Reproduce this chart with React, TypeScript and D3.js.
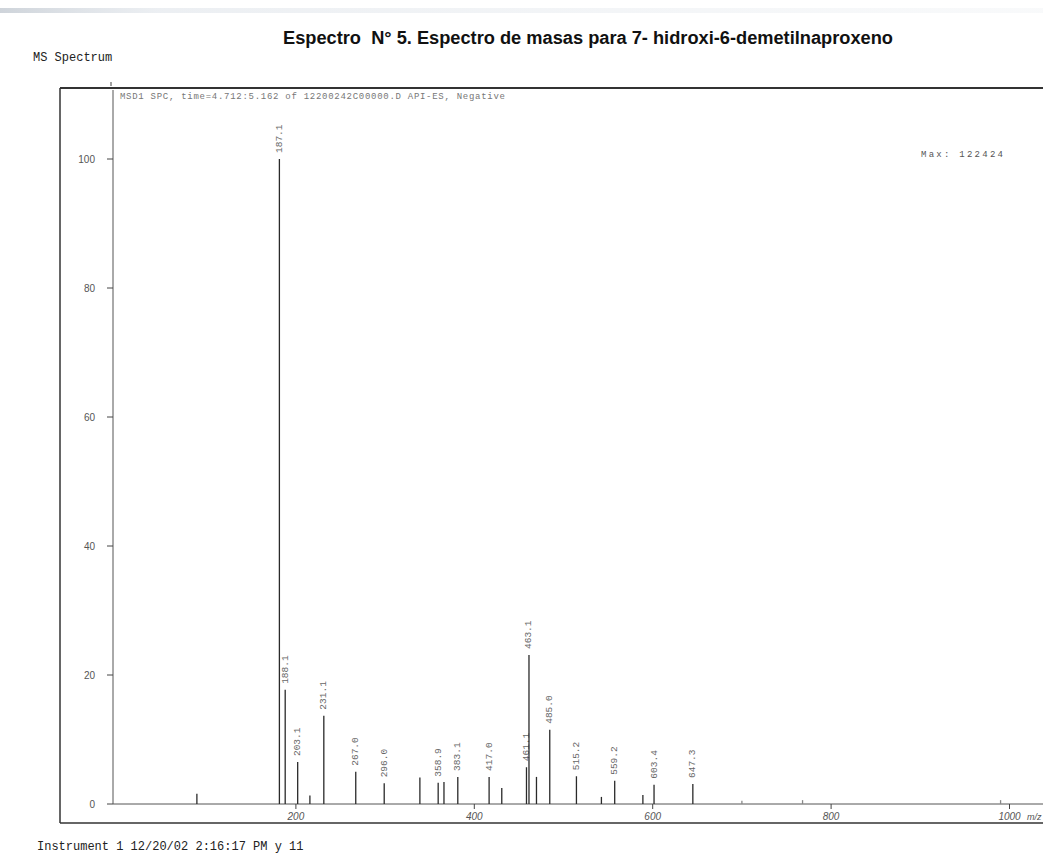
import React from 'react'
import * as d3 from 'd3'

const svgWidth = 1043
const svgHeight = 857

const peakMz = [89, 181.5, 188, 202, 215.7, 231.3, 267.1, 299, 339, 359.5, 366, 381.5, 416.6, 430.8, 458.5, 461.3, 469.7, 484.6, 514.5, 542.5, 557.4, 589, 601.5, 645, 700, 768, 990]
const peakPct = [1.6, 100, 17.7, 6.5, 1.3, 13.7, 5, 3.2, 4.1, 3.3, 3.4, 4.2, 4.2, 2.5, 5.7, 23.1, 4.2, 11.5, 4.3, 1.1, 3.6, 1.4, 3, 3.1, 0.5, 0.6, 0.6]
const peakLabels = ['', '187.1', '188.1', '203.1', '', '231.1', '267.0', '296.0', '', '358.9', '', '383.1', '417.0', '', '461.1', '463.1', '', '485.0', '515.2', '', '559.2', '', '603.4', '647.3', '', '', '']

const yTicks = [0, 20, 40, 60, 80, 100]
const xTicks = [200, 400, 600, 800, 1000]

const title = 'Espectro  N° 5. Espectro de masas para 7- hidroxi-6-demetilnaproxeno'
const header = 'MSD1 SPC, time=4.712:5.162 of 12200242C00000.D  API-ES, Negative'
const footer = 'Instrument 1 12/20/02 2:16:17 PM y 11'

const mono = '"Liberation Mono", "DejaVu Sans Mono", monospace'
const sans = '"Liberation Sans", Arial, sans-serif'

export default function App() {
	const x = d3.scaleLinear().domain([0, 1000]).range([117.5, 1009.5])
	const y = d3.scaleLinear().domain([0, 100]).range([804, 159])
	const axisX = 113

	const peaks = peakMz.map((m, i) => ({ m, p: peakPct[i], label: peakLabels[i] }))

	return (
		<svg
			width={svgWidth}
			height={svgHeight}
			style={{ position: 'absolute', left: 0, top: 0, background: '#fff' }}
		>
			<defs>
				<linearGradient id="scan" x1="0" x2="1" y1="0" y2="0">
					<stop offset="0" stopColor="#c9cfd6" stopOpacity="0.9" />
					<stop offset="0.15" stopColor="#dfe4ea" stopOpacity="0.6" />
					<stop offset="1" stopColor="#eef1f4" stopOpacity="0.4" />
				</linearGradient>
			</defs>
			<rect x={0} y={8} width={svgWidth} height={5} fill="url(#scan)" />

			<text
				x={283}
				y={44}
				fontFamily={sans}
				fontWeight="bold"
				fontSize={17.5}
				fill="#111"
				textLength={610}
				lengthAdjust="spacingAndGlyphs"
				style={{ whiteSpace: 'pre' }}
			>
				{title}
			</text>
			<text x={33} y={61} fontFamily={mono} fontSize={12} fill="#222">MS Spectrum</text>

			{/* outer frame */}
			<line x1={60} x2={svgWidth} y1={88} y2={88} stroke="#333" strokeWidth={2} />
			<line x1={60} x2={60} y1={88} y2={823} stroke="#333" strokeWidth={1.5} />
			<line x1={60} x2={svgWidth} y1={823} y2={823} stroke="#333" strokeWidth={1.5} />
			<line x1={axisX - 2} x2={axisX - 2} y1={82} y2={86} stroke="#444" strokeWidth={1} />

			<text x={120} y={99} fontFamily={mono} fontSize={9} fill="#777" textLength={385}>
				{header}
			</text>
			<text x={921} y={157} fontFamily={mono} fontSize={9} fill="#555" textLength={82}>
				Max: 122424
			</text>

			{/* y axis */}
			<line x1={axisX} x2={axisX} y1={y(110.7)} y2={y(0)} stroke="#555" strokeWidth={1} />
			{yTicks.map(t => (
				<g key={t}>
					<line x1={axisX - 6} x2={axisX} y1={y(t)} y2={y(t)} stroke="#444" strokeWidth={1} />
					<text
						x={95}
						y={y(t)}
						textAnchor="end"
						dominantBaseline="central"
						fontFamily={sans}
						fontSize={10}
						fill="#555"
					>
						{t}
					</text>
				</g>
			))}

			{/* x axis */}
			<line x1={axisX} x2={svgWidth} y1={y(0)} y2={y(0)} stroke="#555" strokeWidth={1} />
			{xTicks.map(t => (
				<g key={t}>
					<line x1={x(t)} x2={x(t)} y1={y(0)} y2={y(0) + 5} stroke="#444" strokeWidth={1} />
					<text x={x(t)} y={820} textAnchor="middle" fontFamily={sans} fontStyle="italic" fontSize={10} fill="#555">
						{t}
					</text>
				</g>
			))}
			<text x={1027} y={820} fontFamily={sans} fontStyle="italic" fontSize={9} fill="#555">m/z</text>

			{/* peaks */}
			{peaks.map((d, i) => (
				<g key={i}>
					<line
						x1={x(d.m)}
						x2={x(d.m)}
						y1={y(0)}
						y2={y(d.p)}
						stroke={d.p > 1 ? '#2a2a2a' : '#888'}
						strokeWidth={1.3}
					/>
					{d.label && (
						<text
							transform={`translate(${x(d.m)},${y(d.p) - 6}) rotate(-90)`}
							dominantBaseline="central"
							fontFamily={mono}
							fontSize={9.5}
							fill="#666"
						>
							{d.label}
						</text>
					)}
				</g>
			))}

			<text x={37} y={850} fontFamily={mono} fontSize={12} fill="#222">{footer}</text>
		</svg>
	)
}
